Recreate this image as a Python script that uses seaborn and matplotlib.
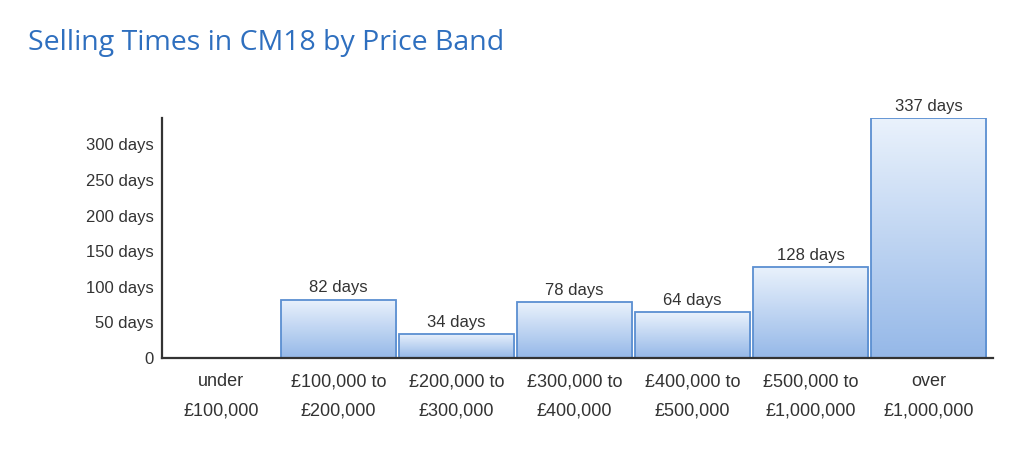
import numpy as np
import pandas as pd
import matplotlib
matplotlib.use("Agg")
import matplotlib.pyplot as plt
import seaborn as sns
from matplotlib.colors import LinearSegmentedColormap

sns.set_style("white")
plt.rcParams['font.family'] = ['Liberation Sans', 'DejaVu Sans']

# data
bands = ["under\n£100,000", "£100,000 to\n£200,000", "£200,000 to\n£300,000",
         "£300,000 to\n£400,000", "£400,000 to\n£500,000", "£500,000 to\n£1,000,000",
         "over\n£1,000,000"]
days = [0, 82, 34, 78, 64, 128, 337]
yticks = [0, 50, 100, 150, 200, 250, 300]
ytick_labels = ["0", "50 days", "100 days", "150 days", "200 days", "250 days", "300 days"]

df = pd.DataFrame({"band": bands, "days": days})

fig = plt.figure(figsize=(10.24, 4.57), dpi=100)
ax = fig.add_axes([0.158, 0.2166, 0.812, 0.525])

sns.barplot(data=df, x="band", y="days", ax=ax, width=0.98,
            color="#c5d9f3", edgecolor="#5b8fd1", linewidth=1.3)

# vertical gradient fill inside each bar
grad_cmap = LinearSegmentedColormap.from_list("bar", ["#95b8e8", "#eaf2fc"])
grad = np.linspace(0, 1, 256).reshape(-1, 1)
for patch in ax.patches:
    h = patch.get_height()
    if h <= 0:
        patch.set_visible(False)
        continue
    x0 = patch.get_x()
    w = patch.get_width()
    im = ax.imshow(grad, cmap=grad_cmap, origin="lower", aspect="auto",
                   extent=[x0, x0 + w, 0, h], zorder=patch.get_zorder() - 0.1)
    im.set_clip_path(patch)
    patch.set_facecolor("none")
ax.set_xlim(-0.5, 6.55)
ax.set_ylim(0, 337)

# value labels on the bars
for i, v in enumerate(days):
    if v > 0:
        ax.text(i, v + 6, f"{v} days", ha="center", va="bottom",
                fontsize=12, color="#333333")

ax.set_yticks(yticks)
ax.set_yticklabels(ytick_labels)
ax.set_xlabel("")
ax.set_ylabel("")
ax.tick_params(axis="y", length=0, pad=6, labelsize=12, labelcolor="#333333")
ax.tick_params(axis="x", length=0, pad=11, labelsize=13, labelcolor="#333333")
for lbl in ax.get_xticklabels():
    lbl.set_linespacing(1.95)

sns.despine(ax=ax)
for side in ["left", "bottom"]:
    ax.spines[side].set_color("#333333")
    ax.spines[side].set_linewidth(1.6)

fig.text(0.027, 0.905, "Selling Times in CM18 by Price Band", fontsize=20.5,
         color="#2e6fbf", family=["Open Sans", "DejaVu Sans"], weight="medium",
         va="center", ha="left")

fig.savefig("out.png", dpi=100)
